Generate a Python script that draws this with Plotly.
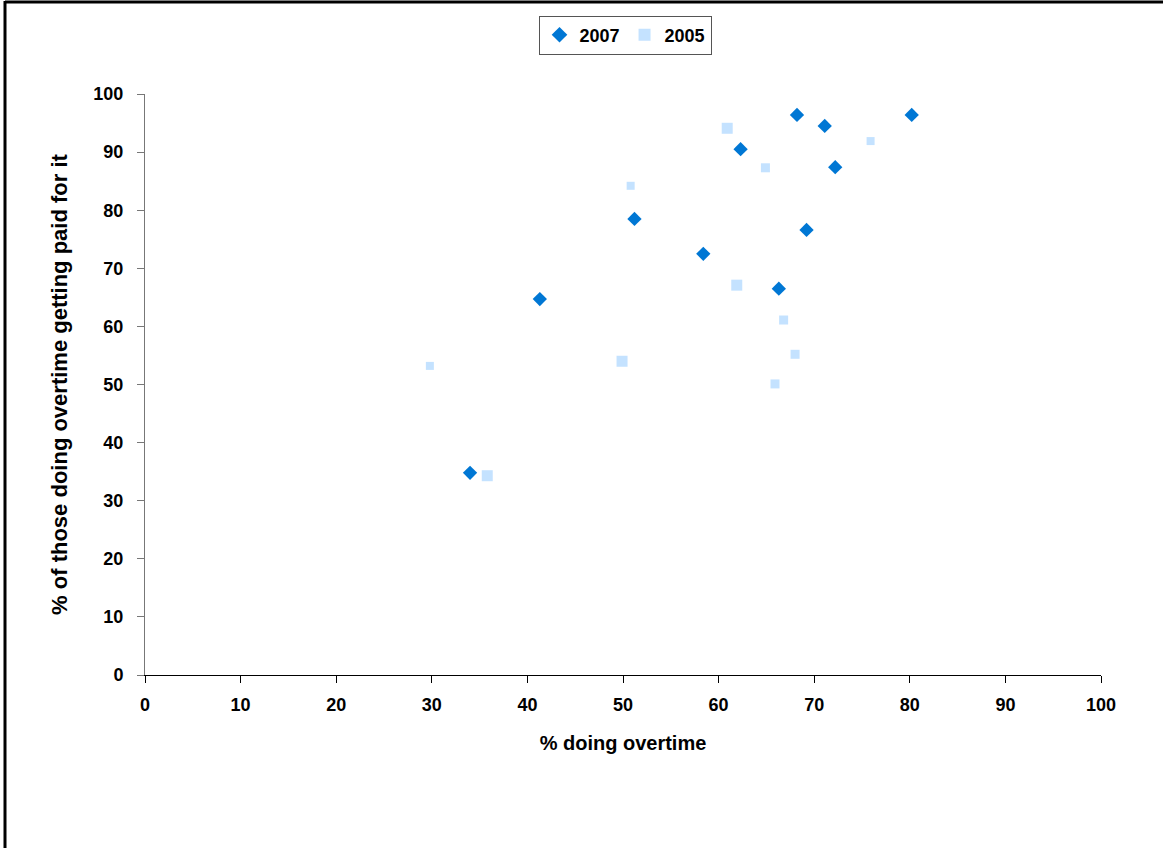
import plotly.graph_objects as go

# 2007 series
x_2007 = [68.2, 71.1, 80.2, 62.3, 72.2, 51.2, 69.2, 58.4, 41.3, 66.3, 34.0]
y_2007 = [96.4, 94.5, 96.4, 90.5, 87.4, 78.5, 76.6, 72.5, 64.7, 66.5, 34.8]

# 2005 series
x_2005 = [60.9, 75.9, 64.9, 50.8, 61.9, 66.8, 68.0, 65.9, 49.9, 29.8, 35.8]
y_2005 = [94.1, 91.9, 87.3, 84.2, 67.1, 61.1, 55.2, 50.1, 54.0, 53.2, 34.3]

# marker sizes (style)
size_2005 = [11, 8, 9, 8, 11, 9, 9, 9, 11, 8, 11]

x_ticks = [0, 10, 20, 30, 40, 50, 60, 70, 80, 90, 100]
y_ticks = [0, 10, 20, 30, 40, 50, 60, 70, 80, 90, 100]

FONT = "Liberation Sans, Arial, sans-serif"

fig = go.Figure()
fig.add_trace(go.Scatter(
    x=x_2007, y=y_2007, mode="markers", name="<b>2007</b>",
    marker=dict(symbol="diamond", size=11, color="#0077d4", line=dict(width=0)),
))
fig.add_trace(go.Scatter(
    x=x_2005, y=y_2005, mode="markers", name="<b>2005</b>",
    marker=dict(symbol="square", size=size_2005, color="#abd5ff", line=dict(width=0)),
))

L, R, T, B = 145, 1101, 94, 675
W, H = 1163, 848

def px(xp):
    return (xp - L) / (R - L)

def py(yp):
    return (B - yp) / (B - T)

fig.update_layout(
    width=W, height=H,
    margin=dict(l=L, r=W - R, t=T, b=H - B),
    paper_bgcolor="white", plot_bgcolor="white",
    font=dict(family=FONT, size=18, color="black"),
    showlegend=True,
    legend=dict(
        orientation="h", x=px(625), y=py(35), xanchor="center", yanchor="middle",
        bordercolor="#555555", borderwidth=1, bgcolor="white",
        font=dict(family=FONT, size=18, color="black"),
        itemsizing="constant", tracegroupgap=0, itemwidth=30,
    ),
    xaxis=dict(
        range=[0, 100], tickvals=x_ticks, ticktext=[f"<b>{v}</b>" for v in x_ticks],
        showgrid=False, zeroline=False, showline=True, linecolor="black", linewidth=1,
        ticks="outside", ticklen=7, tickcolor="black", ticklabelstandoff=6,
        title=dict(text="<b>% doing overtime</b>", font=dict(family=FONT, size=20), standoff=22),
        tickfont=dict(family=FONT, size=18),
    ),
    yaxis=dict(
        range=[0, 100], tickvals=y_ticks, ticktext=[f"<b>{v}</b>" for v in y_ticks],
        showgrid=False, zeroline=False, showline=True, linecolor="#777777", linewidth=1,
        ticks="outside", ticklen=7, tickcolor="#777777", ticklabelstandoff=10,
        title=dict(text="<b>% of those doing overtime getting paid for it</b>",
                   font=dict(family=FONT, size=22), standoff=19),
        tickfont=dict(family=FONT, size=18),
    ),
    shapes=[
        dict(type="line", xref="paper", yref="paper", x0=px(5), x1=px(1163),
             y0=py(2), y1=py(2), line=dict(color="black", width=3)),
        dict(type="line", xref="paper", yref="paper", x0=px(5), x1=px(5),
             y0=py(1), y1=py(848), line=dict(color="black", width=3)),
    ],
)

fig.write_html("out.html")
